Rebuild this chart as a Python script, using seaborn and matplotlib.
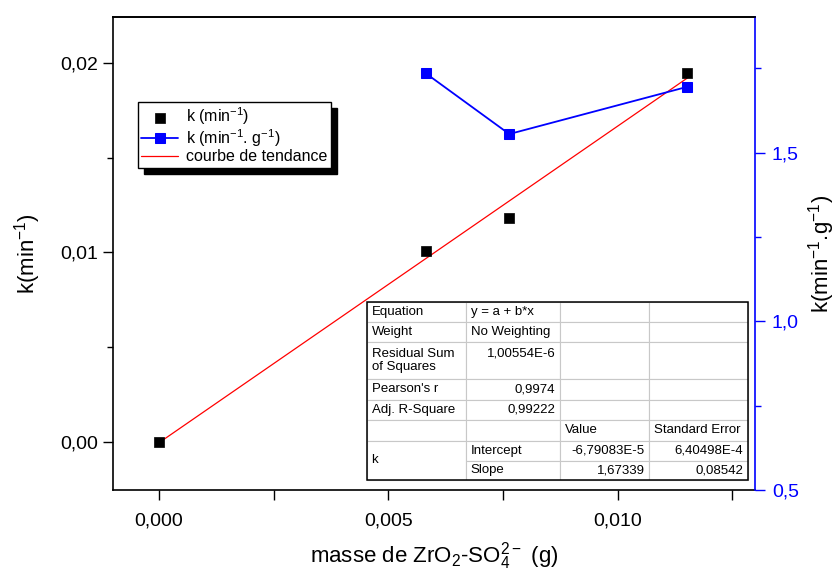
import seaborn as sns
import numpy as np
import matplotlib.pyplot as plt
from matplotlib.ticker import MultipleLocator, FuncFormatter
from matplotlib.patches import Rectangle

# k (min-1) vs masse de catalyseur
masse = [0.0, 0.00582, 0.00764, 0.01152]
k = [0.0, 0.01007, 0.01183, 0.01949]

# k (min-1.g-1)
masse_g = [0.00582, 0.00764, 0.01152]
k_g = [1.735, 1.555, 1.695]

# droite de regression (Origin)
intercept = -6.79083e-5
slope = 1.67339
trend_x = [0.0, 0.01152]

table_rows = [
    ["Equation", "y = a + b*x", "", ""],
    ["Weight", "No Weighting", "", ""],
    ["Residual Sum\nof Squares", "1,00554E-6\n ", "", ""],
    ["Pearson's r", "0,9974", "", ""],
    ["Adj. R-Square", "0,99222", "", ""],
    ["", "", "Value", "Standard Error"],
    ["", "Intercept", "-6,79083E-5", "6,40498E-4"],
    ["", "Slope", "1,67339", "0,08542"],
]
right_cells = [(2, 1), (3, 1), (4, 1), (6, 2), (6, 3), (7, 2), (7, 3)]


def comma(v, pos, nd):
    return f"{v:.{nd}f}".replace(".", ",")


sns.set_theme(style="ticks")
plt.rcParams['font.family'] = ['Liberation Sans', 'DejaVu Sans']
plt.rcParams['mathtext.fontset'] = 'custom'
plt.rcParams['mathtext.rm'] = 'Liberation Sans'
plt.rcParams['mathtext.default'] = 'regular'
plt.rcParams['text.color'] = 'black'
plt.rcParams['axes.labelcolor'] = 'black'

fig = plt.figure(figsize=(8.39, 5.72), dpi=100)
ax = fig.add_axes([0.1347, 0.1434, 0.7653, 0.8269])
ax2 = ax.twinx()

sns.scatterplot(x=masse, y=k, ax=ax, color='black', marker='s', s=60,
                edgecolor='black', linewidth=0.5, zorder=3, label='k (min$^{-1}$)')
sns.lineplot(x=masse_g, y=k_g, ax=ax2, color='blue', marker='s', markersize=7.5,
             markeredgecolor='blue', linewidth=1.3, zorder=3)
trend_y = intercept + slope * np.array(trend_x)
sns.lineplot(x=trend_x, y=trend_y, ax=ax, color='red', linewidth=0.9, zorder=2)

ax.set_xlim(-0.001, 0.013)
ax.set_ylim(-0.00256, 0.02244)
ax2.set_ylim(0.5, 1.902)

ax.xaxis.set_major_locator(MultipleLocator(0.005))
ax.xaxis.set_minor_locator(MultipleLocator(0.0025))
ax.yaxis.set_major_locator(MultipleLocator(0.01))
ax.yaxis.set_minor_locator(MultipleLocator(0.005))
ax2.yaxis.set_major_locator(MultipleLocator(0.5))
ax2.yaxis.set_minor_locator(MultipleLocator(0.25))
ax.xaxis.set_major_formatter(FuncFormatter(lambda v, p: comma(v, p, 3)))
ax.yaxis.set_major_formatter(FuncFormatter(lambda v, p: comma(v, p, 2)))
ax2.yaxis.set_major_formatter(FuncFormatter(lambda v, p: comma(v, p, 1)))

ax.tick_params(axis='both', which='major', direction='out', length=7, width=1,
               labelsize=14, color='black', labelcolor='black')
ax.tick_params(axis='both', which='minor', direction='out', length=7, width=1,
               color='black')
ax.tick_params(axis='y', which='minor', length=4)
ax.tick_params(axis='x', pad=9)
ax.tick_params(axis='y', pad=4)
ax2.tick_params(axis='y', which='major', direction='out', length=7, width=1,
                labelsize=14, colors='blue', pad=5)
ax2.tick_params(axis='y', which='minor', direction='out', length=4, width=1, colors='blue')

for sp in ['left', 'bottom', 'top']:
    ax.spines[sp].set_color('black')
    ax.spines[sp].set_linewidth(1.2)
ax.spines['right'].set_visible(False)
ax2.spines['right'].set_color('blue')
ax2.spines['right'].set_linewidth(1.2)
ax2.spines['top'].set_linewidth(1.2)
ax2.spines['top'].set_color('black')
ax2.spines['left'].set_visible(False)
ax2.spines['bottom'].set_visible(False)

ax.set_xlabel('masse de ZrO$_2$-SO$_4^{2-}$ (g)', fontsize=16, labelpad=8)
ax.set_ylabel('k(min$^{-1}$)', fontsize=16, labelpad=12)
ax2.set_ylabel('k(min$^{-1}$.g$^{-1}$)', fontsize=16, labelpad=5, color='black')

# legend with black drop shadow
h1, l1 = ax.get_legend_handles_labels()
blue_h = ax2.get_lines()[0]
red_h = ax.get_lines()[-1]
if ax.get_legend() is not None:
    ax.get_legend().remove()
handles = [h1[0], blue_h, red_h]
labels = ['k (min$^{-1}$)', 'k (min$^{-1}$. g$^{-1}$)', 'courbe de tendance']
leg = ax.legend(handles, labels, loc='upper left', bbox_to_anchor=(0.039, 0.820),
                borderaxespad=0, fontsize=11.5, frameon=True, fancybox=False,
                edgecolor='black', framealpha=1, handlelength=2.3, handletextpad=0.5,
                labelspacing=0.02, borderpad=0.2,
                shadow={'ox': 4.5, 'oy': -4.5, 'facecolor': 'black',
                        'edgecolor': 'black', 'alpha': 1})
leg.get_frame().set_linewidth(1)
leg.set_zorder(10)

# fit results table
col_w = [99, 94, 89, 99]
row_h = [20, 20, 37, 21, 20, 21, 20, 19]
tab = ax.table(cellText=table_rows, bbox=[0.3956, 0.0211, 0.5935, 0.3764],
               cellLoc='left', zorder=5)
tab.auto_set_font_size(False)
tab.set_fontsize(9.5)
for (r, c), cell in tab.get_celld().items():
    cell.set_width(col_w[c])
    cell.set_height(row_h[r])
    cell.set_edgecolor('#c8c8c8')
    cell.set_linewidth(0.8)
    cell.PAD = 0.05
    if (r, c) in right_cells:
        cell._loc = 'right'
        cell.get_text().set_ha('right')
tab[6, 0].visible_edges = 'LTR'
tab[7, 0].visible_edges = 'LBR'
ax.add_patch(Rectangle((0.3956, 0.0211), 0.5935, 0.3764, transform=ax.transAxes,
                       fill=False, edgecolor='black', linewidth=1.1, zorder=6))
ax.text(0.3956 + 0.006, 0.0211 + 0.0425, 'k', transform=ax.transAxes,
        fontsize=9.5, va='center', ha='left', zorder=7)

fig.savefig('out.png', dpi=100)
